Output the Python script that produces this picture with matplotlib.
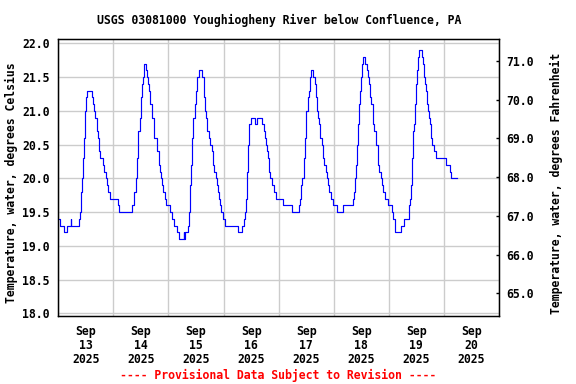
"""USGS style water temperature plot, Youghiogheny River below Confluence."""
import pandas as pd
import matplotlib
matplotlib.use("Agg")
import matplotlib.pyplot as plt
import matplotlib.dates as mdates
from matplotlib.ticker import FormatStrFormatter, FixedLocator

plt.rcParams["font.family"] = ["DejaVu Sans Mono"]
plt.rcParams["font.weight"] = "bold"
plt.rcParams["font.size"] = 8.3

# hours since 2025-09-13 00:00 where the reading changes, and the value (deg C)
hours = [
    0.0, 0.9, 2.6, 3.9, 5.4, 5.7, 9.0, 9.3, 9.8, 10.2, 10.6, 11.1, 11.5, 11.9,
    12.2, 12.7, 14.6, 15.2, 15.7, 16.2, 16.7, 17.2, 17.8, 18.2, 19.4, 19.9,
    20.7, 21.1, 21.8, 22.6, 25.8, 26.6, 32.3, 33.2, 33.8, 34.3, 34.9, 35.4,
    36.0, 36.4, 37.0, 37.4, 37.5, 38.1, 38.6, 39.0, 39.6, 40.0, 41.0, 41.5,
    41.9, 42.9, 44.0, 44.4, 44.8, 45.4, 45.8, 46.3, 46.9, 48.6, 49.5, 50.2,
    51.7, 52.4, 54.6, 54.9, 55.1, 56.5, 57.0, 57.5, 57.9, 58.3, 58.9, 59.4,
    59.8, 60.5, 61.1, 62.5, 63.3, 63.6, 63.9, 64.4, 64.9, 65.5, 66.2, 66.9,
    67.3, 67.9, 68.5, 69.1, 69.7, 70.1, 70.5, 71.1, 71.6, 72.7, 78.5, 80.1,
    80.7, 81.2, 81.6, 82.0, 82.5, 82.9, 83.3, 83.9, 85.5, 86.4, 88.6, 89.5,
    89.9, 90.5, 90.9, 91.3, 91.9, 92.4, 93.1, 94.1, 95.0, 97.9, 101.8, 104.9,
    105.5, 105.9, 106.3, 106.9, 107.5, 108.1, 108.7, 109.2, 109.7, 110.3,
    111.1, 111.7, 112.3, 112.7, 113.3, 113.7, 114.2, 114.8, 115.2, 115.8,
    116.8, 117.2, 117.7, 118.1, 118.8, 119.7, 121.3, 124.2, 128.3, 128.7,
    129.2, 129.6, 130.0, 130.5, 130.9, 131.4, 131.8, 132.2, 132.7, 133.8,
    134.4, 135.0, 135.5, 136.0, 136.4, 136.9, 137.3, 137.7, 138.2, 138.6,
    139.1, 139.5, 139.9, 140.4, 140.9, 141.4, 142.4, 143.6, 145.5, 146.0,
    146.5, 146.9, 149.1, 150.8, 152.7, 153.2, 153.6, 154.0, 154.5, 154.9,
    155.3, 155.8, 156.2, 156.7, 157.1, 158.5, 159.0, 159.4, 159.9, 160.3,
    160.7, 161.2, 161.6, 162.0, 162.5, 162.9, 163.8, 164.7, 169.0, 170.5,
    170.9, 173.8,
]
temp_c = [
    19.4, 19.3, 19.2, 19.3, 19.4, 19.3, 19.4, 19.5, 19.8, 20.0, 20.3, 20.6, 21.0, 21.1,
    21.2, 21.3, 21.2, 21.1, 21.0, 20.9, 20.7, 20.6, 20.4, 20.3, 20.2, 20.1,
    20.0, 19.9, 19.8, 19.7, 19.6, 19.5, 19.6, 19.8, 20.0, 20.3, 20.7, 20.9,
    21.2, 21.4, 21.5, 21.6, 21.7, 21.6, 21.5, 21.4, 21.3, 21.1, 20.9, 20.8,
    20.6, 20.4, 20.2, 20.1, 20.0, 19.9, 19.8, 19.7, 19.6, 19.5, 19.4, 19.3,
    19.2, 19.1, 19.2, 19.1, 19.2, 19.3, 19.5, 19.9, 20.2, 20.6, 20.9, 21.1,
    21.3, 21.5, 21.6, 21.5, 21.3, 21.2, 21.0, 20.9, 20.7, 20.6, 20.5, 20.4,
    20.2, 20.1, 20.0, 19.9, 19.8, 19.7, 19.6, 19.5, 19.4, 19.3, 19.2, 19.3,
    19.4, 19.5, 19.7, 20.1, 20.5, 20.6, 20.8, 20.9, 20.8, 20.9, 20.8, 20.7,
    20.6, 20.5, 20.4, 20.3, 20.1, 20.0, 19.9, 19.8, 19.7, 19.6, 19.5, 19.6,
    19.7, 19.9, 20.0, 20.3, 20.6, 21.0, 21.2, 21.3, 21.5, 21.6,
    21.5, 21.4, 21.2, 21.0, 20.9, 20.8, 20.6, 20.5, 20.3, 20.2,
    20.1, 20.0, 19.9, 19.8, 19.7, 19.6, 19.5, 19.6, 19.7, 19.8,
    20.0, 20.2, 20.5, 20.8, 21.1, 21.3, 21.5, 21.7, 21.8, 21.7,
    21.6, 21.5, 21.4, 21.2, 21.1, 21.0, 20.8, 20.7, 20.6, 20.5,
    20.4, 20.2, 20.1, 20.0, 19.9, 19.8, 19.7, 19.6, 19.5, 19.4,
    19.3, 19.2, 19.3, 19.4, 19.6, 19.7, 19.9, 20.3, 20.7, 20.8,
    21.1, 21.4, 21.6, 21.8, 21.9, 21.8, 21.7, 21.5, 21.4, 21.3,
    21.1, 21.0, 20.9, 20.8, 20.6, 20.5, 20.4, 20.3, 20.2, 20.1,
    20.0, 20.0,
]

c_ticks = [18.0, 18.5, 19.0, 19.5, 20.0, 20.5, 21.0, 21.5, 22.0]
f_ticks = [65.0, 66.0, 67.0, 68.0, 69.0, 70.0, 71.0]

start = pd.Timestamp("2025-09-13")
times = start + pd.to_timedelta(hours, unit="h")

fig = plt.figure(figsize=(5.76, 3.84), dpi=100)
ax = fig.add_axes([0.1012, 0.1779, 0.7651, 0.7198])

ax.plot(times, temp_c, color="#0000FF", lw=0.85, drawstyle="steps-post")

ax.set_xlim(start, start + pd.Timedelta(days=8))
ax.set_ylim(17.965, 22.06)
ax.yaxis.set_major_locator(FixedLocator(c_ticks))
ax.yaxis.set_major_formatter(FormatStrFormatter("%.1f"))

# labels at noon, grid lines at midnight
ax.xaxis.set_major_locator(mdates.HourLocator(byhour=12))
ax.xaxis.set_major_formatter(mdates.DateFormatter("%b\n%d\n%Y"))
ax.xaxis.set_minor_locator(mdates.DayLocator())
ax.tick_params(axis="x", which="both", length=0, pad=6.5)
ax.tick_params(axis="y", length=0, pad=6)
for t in ax.xaxis.get_major_ticks():
    t.label1.set_linespacing(1.1)

ax.grid(True, axis="y", which="major", color="#CCCCCC", lw=1.0)
ax.grid(True, axis="x", which="minor", color="#CCCCCC", lw=1.0)
ax.grid(False, axis="x", which="major")
for s in ax.spines.values():
    s.set_linewidth(1.0)

ax2 = ax.twinx()
ax2.set_ylim(64.42, 71.56)
ax2.yaxis.set_major_locator(FixedLocator(f_ticks))
ax2.yaxis.set_major_formatter(FormatStrFormatter("%.1f"))
ax2.tick_params(axis="y", direction="in", length=2.5, width=1.0, pad=5)

fig.text(0.484, 0.948, "USGS 03081000 Youghiogheny River below Confluence, PA",
         ha="center", va="center")
fig.text(0.020, 0.523, "Temperature, water, degrees Celsius",
         rotation=90, ha="center", va="center")
fig.text(0.966, 0.523, "Temperature, water, degrees Fahrenheit",
         rotation=90, ha="center", va="center")
fig.text(0.482, 0.023, "---- Provisional Data Subject to Revision ----",
         ha="center", va="center", color="#FF0000")

fig.savefig("out.png", dpi=100)
